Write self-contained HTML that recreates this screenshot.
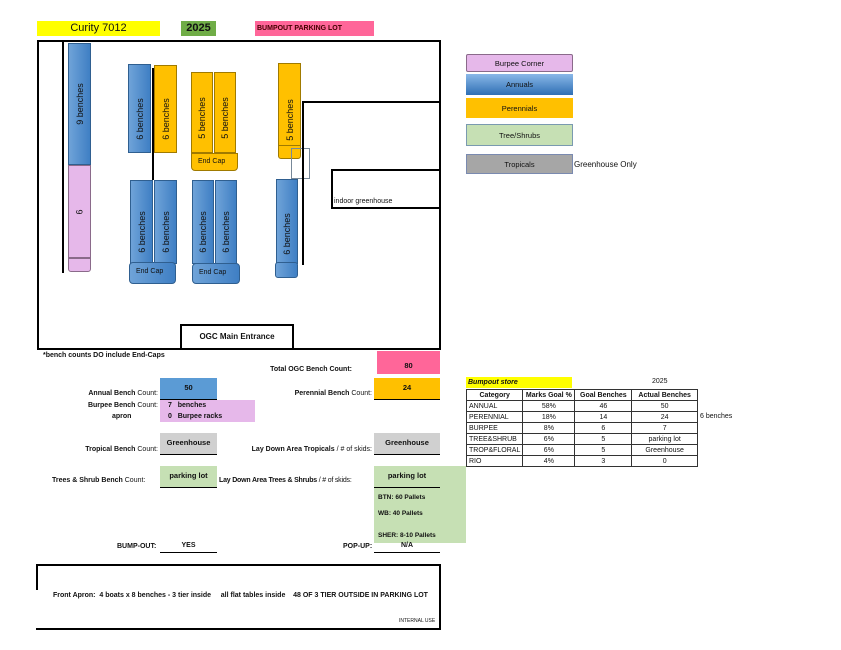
<!DOCTYPE html>
<html><head><meta charset="utf-8"><style>
body{margin:0;width:841px;height:650px;background:#fff;position:relative;overflow:hidden;font-family:"Liberation Sans",sans-serif;color:#111}
div{position:absolute;box-sizing:border-box}
.b{background:linear-gradient(90deg,#6fa3d8,#3f7fc4);border:1px solid #2f5f90}
.o{background:#ffc000;border:1px solid #a07a00}
.p{background:#e6b8ea;border:1px solid #8a6a8a}
.v{display:flex;align-items:center;justify-content:center}
.v span{transform:rotate(-90deg);white-space:nowrap;font-size:9px}
.t{font-size:7px;font-weight:bold;white-space:nowrap}
.r{text-align:right}
.ln{background:#000}
.cell{display:flex;align-items:center;justify-content:center;font-size:7.5px;font-weight:bold}
.ul{border-bottom:1.5px solid #000}
table{position:absolute;border-collapse:collapse;font-size:7px}
td{border:1px solid #333;height:10px;padding:0 2px;text-align:center}
td:first-child{text-align:left}
</style></head><body>
<div style="left:37px;top:21px;width:123px;height:15px;background:#ffff00;font-size:11px;text-align:center;line-height:15px">Curity 7012</div>
<div style="left:181px;top:21px;width:35px;height:15px;background:#70ad47;font-size:11px;font-weight:bold;text-align:center;line-height:15px">2025</div>
<div style="left:255px;top:21px;width:119px;height:15px;background:#ff6699;font-size:7px;font-weight:bold;line-height:15px;padding-left:2px;color:#400">BUMPOUT PARKING LOT</div>

<div style="left:37px;top:40px;width:404px;height:310px;border:2px solid #000"></div>
<div class="ln" style="left:62px;top:40px;width:2px;height:233px"></div>
<div class="b v" style="left:68px;top:43px;width:23px;height:122px"><span>9 benches</span></div>
<div class="p v" style="left:68px;top:165px;width:23px;height:93px"><span>6</span></div>
<div class="p" style="left:68px;top:258px;width:23px;height:14px;border-radius:0 0 3px 3px"></div>

<div class="b v" style="left:128px;top:64px;width:23px;height:89px;padding-top:20px"><span>6 benches</span></div>
<div class="o v" style="left:154px;top:65px;width:23px;height:88px;padding-top:20px"><span>6 benches</span></div>
<div class="ln" style="left:152px;top:68px;width:2px;height:112px"></div>
<div class="o v" style="left:191px;top:72px;width:22px;height:81px;padding-top:10px"><span>5 benches</span></div>
<div class="o v" style="left:214px;top:72px;width:22px;height:81px;padding-top:10px"><span>5 benches</span></div>
<div class="o" style="left:191px;top:153px;width:47px;height:18px;border-radius:0 0 4px 4px;font-size:7px;padding:4px 0 0 6px">End Cap</div>

<div class="b v" style="left:130px;top:180px;width:23px;height:84px;padding-top:20px"><span>6 benches</span></div>
<div class="b v" style="left:154px;top:180px;width:23px;height:84px;padding-top:20px"><span>6 benches</span></div>
<div class="b" style="left:129px;top:262px;width:47px;height:22px;border-radius:4px;font-size:7px;padding:5px 0 0 6px">End Cap</div>
<div class="b v" style="left:192px;top:180px;width:22px;height:84px;padding-top:20px"><span>6 benches</span></div>
<div class="b v" style="left:215px;top:180px;width:22px;height:84px;padding-top:20px"><span>6 benches</span></div>
<div class="b" style="left:192px;top:263px;width:48px;height:21px;border-radius:4px;font-size:7px;padding:5px 0 0 6px">End Cap</div>

<div class="o v" style="left:278px;top:63px;width:23px;height:83px;padding-top:30px"><span>5 benches</span></div>
<div class="o" style="left:278px;top:145px;width:23px;height:14px;border-radius:0 0 3px 3px"></div>
<div style="left:291px;top:148px;width:19px;height:31px;border:1px solid #789"></div>
<div class="ln" style="left:302px;top:101px;width:2px;height:164px"></div>
<div class="ln" style="left:302px;top:101px;width:138px;height:2px"></div>
<div class="b v" style="left:276px;top:179px;width:22px;height:85px;padding-top:25px"><span>6 benches</span></div>
<div class="b" style="left:275px;top:262px;width:23px;height:16px;border-radius:3px"></div>
<div style="left:331px;top:169px;width:110px;height:40px;border:2px solid #000;border-right:none;font-size:7px;padding:27px 0 0 1px">indoor greenhouse</div>
<div style="left:180px;top:324px;width:114px;height:26px;border:2px solid #000;border-bottom:none;font-size:8px;font-weight:bold;text-align:center;padding-top:6px">OGC Main Entrance</div>

<div class="p cell" style="left:466px;top:54px;width:107px;height:18px;border-radius:2px;font-weight:normal">Burpee Corner</div>
<div class="cell" style="left:466px;top:74px;width:107px;height:21px;background:linear-gradient(#8ab8e8,#2f6fb4);font-weight:normal">Annuals</div>
<div class="o cell" style="left:466px;top:98px;width:107px;height:20px;font-weight:normal;border:none">Perennials</div>
<div class="cell" style="left:466px;top:124px;width:107px;height:22px;background:#c6e0b4;border:1px solid #7a9ab0;font-weight:normal">Tree/Shrubs</div>
<div class="cell" style="left:466px;top:154px;width:107px;height:20px;background:#a6a6a6;border:1px solid #7a8ab0;font-weight:normal">Tropicals</div>
<div style="left:574px;top:160px;font-size:8px">Greenhouse Only</div>

<div class="t" style="left:43px;top:352px">*bench counts DO include End-Caps</div>
<div class="cell" style="left:377px;top:351px;width:63px;height:23px;background:#ff6699;padding-top:6px">80</div>
<div class="t r" style="left:200px;top:366px;width:152px">Total OGC Bench Count:</div>
<div class="cell ul" style="left:160px;top:378px;width:57px;height:22px;background:#5b9bd5;align-items:flex-start;padding-top:5px">50</div>
<div class="t r" style="left:40px;top:390px;width:118px">Annual Bench <span style="font-weight:normal">Count:</span></div>
<div class="cell ul" style="left:374px;top:378px;width:66px;height:22px;background:#ffc000;align-items:flex-start;padding-top:5px">24</div>
<div class="t r" style="left:220px;top:390px;width:152px">Perennial Bench <span style="font-weight:normal">Count:</span></div>
<div style="left:160px;top:400px;width:95px;height:22px;background:#e6b8ea"></div>
<div class="t" style="left:168px;top:402px">7 &nbsp;&nbsp;benches</div>
<div class="t" style="left:168px;top:413px">0 &nbsp;&nbsp;Burpee racks</div>
<div class="t r" style="left:40px;top:402px;width:118px">Burpee Bench <span style="font-weight:normal">Count:</span></div>
<div class="t" style="left:112px;top:413px">apron</div>

<div class="cell ul" style="left:160px;top:433px;width:57px;height:22px;background:#d0d0d0;align-items:flex-start;padding-top:5px">Greenhouse</div>
<div class="t r" style="left:40px;top:446px;width:118px">Tropical Bench <span style="font-weight:normal">Count:</span></div>
<div class="cell ul" style="left:374px;top:433px;width:66px;height:22px;background:#d0d0d0;align-items:flex-start;padding-top:5px">Greenhouse</div>
<div class="t r" style="left:200px;top:446px;width:172px">Lay Down Area Tropicals <span style="font-weight:normal">/ # of skids:</span></div>

<div class="cell ul" style="left:160px;top:466px;width:57px;height:22px;background:#c6e0b4;align-items:flex-start;padding-top:5px">parking lot</div>
<div class="t" style="left:52px;top:477px">Trees &amp; Shrub Bench <span style="font-weight:normal">Count:</span></div>
<div style="left:374px;top:466px;width:92px;height:77px;background:#c6e0b4"></div>
<div class="cell ul" style="left:374px;top:466px;width:66px;height:22px;align-items:flex-start;padding-top:5px">parking lot</div>
<div class="t" style="left:219px;top:477px;letter-spacing:-0.2px">Lay Down Area Trees &amp; Shrubs <span style="font-weight:normal">/ # of skids:</span></div>
<div class="t" style="left:378px;top:494px;font-size:6.5px">BTN: 60 Pallets</div>
<div class="t" style="left:378px;top:510px;font-size:6.5px">WB: 40 Pallets</div>
<div class="t" style="left:378px;top:532px;font-size:6.5px">SHER: 8-10 Pallets</div>

<div class="t" style="left:117px;top:543px;font-size:7px">BUMP-OUT:</div>
<div class="t ul" style="left:160px;top:542px;width:57px;height:11px;text-align:center;font-size:7px">YES</div>
<div class="t" style="left:343px;top:543px;font-size:7px">POP-UP:</div>
<div class="t ul" style="left:374px;top:542px;width:66px;height:11px;text-align:center;font-size:7px">N/A</div>

<div style="left:36px;top:564px;width:405px;height:66px;border-top:2px solid #000;border-right:2px solid #000;border-bottom:2px solid #000"></div>
<div class="ln" style="left:36px;top:564px;width:2px;height:26px"></div>
<div class="t" style="left:53px;top:592px;font-size:7px">Front Apron: &nbsp;4 boats x 8 benches - 3 tier inside &nbsp;&nbsp;&nbsp;&nbsp;all flat tables inside &nbsp;&nbsp;&nbsp;48 OF 3 TIER OUTSIDE IN PARKING LOT</div>
<div style="left:399px;top:618px;font-size:5px">INTERNAL USE</div>

<div style="left:466px;top:377px;width:106px;height:11px;background:#ffff00;font-size:7px;font-weight:bold;font-style:italic;padding-left:2px;line-height:11px">Bumpout store</div>
<div style="left:652px;top:378px;font-size:7px">2025</div>
<table style="left:466px;top:389px;width:232px">
<tr style="font-weight:bold"><td style="width:51px;text-align:center">Category</td><td style="width:47px">Marks Goal %</td><td style="width:52px">Goal Benches</td><td>Actual Benches</td></tr>
<tr><td>ANNUAL</td><td>58%</td><td>46</td><td>50</td></tr>
<tr><td>PERENNIAL</td><td>18%</td><td>14</td><td>24</td></tr>
<tr><td>BURPEE</td><td>8%</td><td>6</td><td>7</td></tr>
<tr><td>TREE&amp;SHRUB</td><td>6%</td><td>5</td><td>parking lot</td></tr>
<tr><td>TROP&amp;FLORAL</td><td>6%</td><td>5</td><td>Greenhouse</td></tr>
<tr><td>RIO</td><td>4%</td><td>3</td><td>0</td></tr>
</table>
<div style="left:700px;top:413px;font-size:7px">6 benches</div>
</body></html>
